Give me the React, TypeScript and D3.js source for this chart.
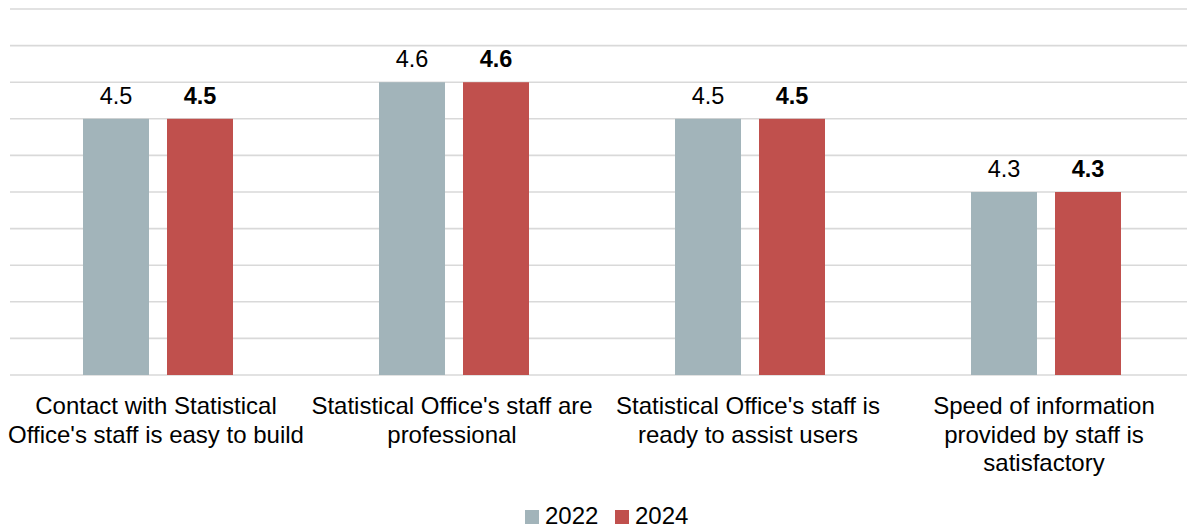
import React from "react";
import * as d3 from "d3";

const categories = [
  "Contact with Statistical\nOffice's staff is easy to build",
  "Statistical Office's staff are\nprofessional",
  "Statistical Office's staff is\nready to assist users",
  "Speed of information\nprovided by staff is\nsatisfactory",
];
const seriesNames = ["2022", "2024"];
const values2022 = [4.5, 4.6, 4.5, 4.3];
const values2024 = [4.5, 4.6, 4.5, 4.3];
const gridTicks = [3.8, 3.9, 4.0, 4.1, 4.2, 4.3, 4.4, 4.5, 4.6, 4.7, 4.8];

const colors = ["#A2B4BA", "#C0504D"];
const W = 1187;
const H = 529;
const FONT = "'Liberation Sans', Arial, sans-serif";

export default function App() {
  const x0 = d3.scaleBand<number>().domain(d3.range(categories.length)).range([10, 1194]).padding(0);
  const y = d3.scaleLinear().domain([3.8, 4.8]).range([375, 9]);
  const series = [values2022, values2024];

  return (
    <svg width={W} height={H} style={{ position: "absolute", left: 0, top: 0, background: "#fff" }} fontFamily={FONT}>
      {gridTicks.map((t) => (
        <line key={t} x1={10} x2={1194} y1={y(t)} y2={y(t)} stroke="#D9D9D9" strokeWidth={1.6} />
      ))}
      {categories.map((c, i) => {
        const cx = (x0(i) as number) + x0.bandwidth() / 2;
        const x1 = d3.scaleBand<string>().domain(seriesNames).range([cx - 75, cx + 75]).paddingInner(18 / 84);
        return (
          <g key={i}>
            {series.map((vals, s) => {
              const bx = x1(seriesNames[s]) as number;
              const v = vals[i];
              return (
                <g key={s}>
                  <rect x={bx} y={y(v)} width={x1.bandwidth()} height={y(3.8) - y(v)} fill={colors[s]} />
                  <text
                    x={bx + x1.bandwidth() / 2}
                    y={y(v) - 15}
                    textAnchor="middle"
                    fontSize={23.5}
                    fontWeight={s === 1 ? "bold" : "normal"}
                    fill="#000"
                  >
                    {v.toFixed(1)}
                  </text>
                </g>
              );
            })}
            <text x={cx - 2} y={414} textAnchor="middle" fontSize={24} fill="#000">
              {c.split("\n").map((line, li) => (
                <tspan key={li} x={cx - 2} dy={li === 0 ? 0 : 28.5}>
                  {line}
                </tspan>
              ))}
            </text>
          </g>
        );
      })}
      {seriesNames.map((n, s) => (
        <g key={n} transform={`translate(${525 + s * 90},0)`}>
          <rect x={0} y={510} width={14} height={14} fill={colors[s]} />
          <text x={20} y={524} fontSize={24} fill="#000">
            {n}
          </text>
        </g>
      ))}
    </svg>
  );
}
